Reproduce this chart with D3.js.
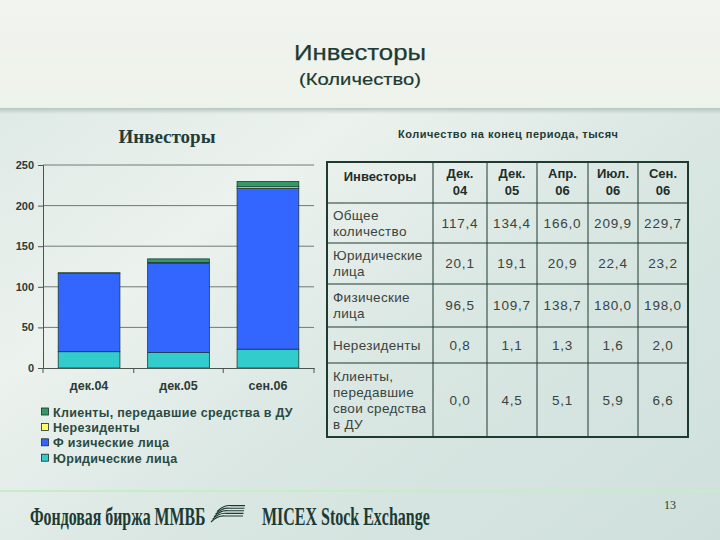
<!DOCTYPE html>
<html><head><meta charset="utf-8">
<script src="https://cdn.jsdelivr.net/npm/d3@7/dist/d3.min.js"></script>
<style>html,body{margin:0;padding:0;}svg{display:block;}</style>
</head><body><svg id="c" width="720" height="540"></svg>
<script>
const categories = ["дек.04", "дек.05", "сен.06"];
const seriesNames = ["Юридические лица", "Физические лица", "Нерезиденты", "Клиенты, передавшие средства в ДУ"];
const legal = [20.1, 19.1, 23.2];
const individuals = [96.5, 109.7, 198.0];
const nonresidents = [0.8, 1.1, 2.0];
const trustClients = [0.0, 4.5, 6.6];
const yTicks = [0, 50, 100, 150, 200, 250];

const tableHeader = ["Инвесторы", "Дек.\n04", "Дек.\n05", "Апр.\n06", "Июл.\n06", "Сен.\n06"];
const rowLabels = ["Общее\nколичество", "Юридические\nлица", "Физические\nлица", "Нерезиденты", "Клиенты,\nпередавшие\nсвои средства\nв ДУ"];
const rowTotal = ["117,4", "134,4", "166,0", "209,9", "229,7"];
const rowLegal = ["20,1", "19,1", "20,9", "22,4", "23,2"];
const rowIndiv = ["96,5", "109,7", "138,7", "180,0", "198,0"];
const rowNonres = ["0,8", "1,1", "1,3", "1,6", "2,0"];
const rowTrust = ["0,0", "4,5", "5,1", "5,9", "6,6"];

const svg = d3.select("#c");
const defs = svg.append("defs");
const bg = defs.append("linearGradient").attr("id","bg").attr("x1","0").attr("y1","0").attr("x2","1").attr("y2","1");
bg.append("stop").attr("offset","0").attr("stop-color","#d9e6e2");
bg.append("stop").attr("offset","0.35").attr("stop-color","#ecf2ee");
bg.append("stop").attr("offset","0.6").attr("stop-color","#dae7e3");
bg.append("stop").attr("offset","1").attr("stop-color","#cfe0dc");
const hg = defs.append("linearGradient").attr("id","hg").attr("x1","0").attr("y1","0").attr("x2","0").attr("y2","1");
hg.append("stop").attr("offset","0").attr("stop-color","#f1f4ef");
hg.append("stop").attr("offset","1").attr("stop-color","#edf2ea");
const sh = defs.append("linearGradient").attr("id","sh").attr("x1","0").attr("y1","0").attr("x2","0").attr("y2","1");
sh.append("stop").attr("offset","0").attr("stop-color","#b5c6c1");
sh.append("stop").attr("offset","1").attr("stop-color","#b5c6c1").attr("stop-opacity","0");

svg.append("rect").attr("width",720).attr("height",540).attr("fill","url(#bg)");
svg.append("rect").attr("width",720).attr("height",108).attr("fill","url(#hg)");
svg.append("rect").attr("y",108).attr("width",720).attr("height",6).attr("fill","url(#sh)");

svg.append("text").attr("x",360).attr("y",60).attr("text-anchor","middle")
  .attr("font-family","Liberation Sans, Arial, sans-serif").attr("font-size",22).attr("fill","#1d3a33")
  .attr("stroke","#1d3a33").attr("stroke-width",0.25)
  .attr("textLength",132).attr("lengthAdjust","spacingAndGlyphs").text("Инвесторы");
svg.append("text").attr("x",360).attr("y",85).attr("text-anchor","middle")
  .attr("font-family","Liberation Sans, Arial, sans-serif").attr("font-size",17).attr("fill","#1d3a33")
  .attr("stroke","#1d3a33").attr("stroke-width",0.2)
  .attr("textLength",122).attr("lengthAdjust","spacingAndGlyphs").text("(Количество)");

// chart
const x = d3.scaleBand().domain(categories).range([43, 314]).paddingInner(0.31).paddingOuter(0.17);
const y = d3.scaleLinear().domain([0, 250]).range([368, 165]);
const colors = d3.scaleOrdinal().domain(seriesNames).range(["#33cccc", "#3366ff", "#ffff66", "#339966"]);

svg.append("text").attr("x",167).attr("y",143).attr("text-anchor","middle")
  .attr("font-family","Liberation Serif, Times New Roman, serif").attr("font-weight","bold")
  .attr("font-size",19).attr("fill","#243c35").text("Инвесторы");

const g = svg.append("g");
g.selectAll("line.grid").data(yTicks.filter(t=>t>0)).enter().append("line")
  .attr("x1",43).attr("x2",314).attr("y1",d=>y(d)).attr("y2",d=>y(d))
  .attr("stroke","#6f7a78").attr("stroke-width",1);

const table = categories.map((c,i)=>({cat:c, "Юридические лица":legal[i], "Физические лица":individuals[i], "Нерезиденты":nonresidents[i], "Клиенты, передавшие средства в ДУ":trustClients[i]}));
const stack = d3.stack().keys(seriesNames)(table);
g.selectAll("g.s").data(stack).enter().append("g").attr("fill",d=>colors(d.key))
  .selectAll("rect").data(d=>d).enter().append("rect")
  .attr("x",d=>x(d.data.cat)).attr("width",x.bandwidth())
  .attr("y",d=>y(d[1])).attr("height",d=>Math.max(0,y(d[0])-y(d[1])))
  .attr("stroke","#1d3a3a").attr("stroke-width",0.8);

const yAxis = g.append("g").attr("transform","translate(43,0)").call(d3.axisLeft(y).tickValues(yTicks).tickSize(5).tickPadding(4));
yAxis.select(".domain").attr("stroke","#4a5553");
yAxis.selectAll(".tick line").attr("stroke","#4a5553");
yAxis.selectAll("text").attr("font-family","Liberation Sans, Arial, sans-serif").attr("font-weight","bold").attr("font-size",11).attr("fill","#2d3a37");

const xAxis = g.append("g").attr("transform","translate(0,368)").call(d3.axisBottom(x).tickSize(0).tickPadding(13));
xAxis.select(".domain").attr("stroke","#4a5553");
xAxis.selectAll("text").attr("font-family","Liberation Sans, Arial, sans-serif").attr("font-weight","bold").attr("font-size",12.5).attr("fill","#2d3a37");
const sep = [43, (x(categories[0])+x.bandwidth()+x(categories[1]))/2, (x(categories[1])+x.bandwidth()+x(categories[2]))/2, 314];
g.selectAll("line.xt").data(sep).enter().append("line")
  .attr("x1",d=>d).attr("x2",d=>d).attr("y1",368).attr("y2",373).attr("stroke","#4a5553");

// legend
const legendOrder = seriesNames.slice().reverse();
const leg = svg.append("g");
legendOrder.forEach((n,i)=>{
  const yy = 412 + i*15.4;
  leg.append("rect").attr("x",41.5).attr("y",yy-4).attr("width",7).attr("height",7).attr("fill",colors(n)).attr("stroke","#1d2d2a").attr("stroke-width",0.8);
  leg.append("text").attr("x",53).attr("y",yy+4.5).attr("font-family","Liberation Sans, Arial, sans-serif").attr("font-weight","bold")
    .attr("font-size",12.5).attr("letter-spacing",0.3).attr("fill","#2a4a42").text(n === "Физические лица" ? "Ф изические лица" : n);
});

// table
svg.append("text").attr("x",508).attr("y",138).attr("text-anchor","middle")
  .attr("font-family","Liberation Sans, Arial, sans-serif").attr("font-weight","bold").attr("font-size",11).attr("fill","#243a34")
  .attr("textLength",220).attr("lengthAdjust","spacing")
  .text("Количество на конец периода, тысяч");
const colX = [327, 433, 487, 537, 588, 638, 688];
const rowY = [162, 203, 243, 284, 327, 363, 437];
const T = svg.append("g");
colX.slice(1,-1).forEach(cx=>T.append("line").attr("x1",cx).attr("x2",cx).attr("y1",rowY[0]).attr("y2",rowY[6]).attr("stroke","#1e3b30").attr("stroke-width",1));
rowY.slice(1,-1).forEach(ry=>T.append("line").attr("x1",colX[0]).attr("x2",colX[6]).attr("y1",ry).attr("y2",ry).attr("stroke","#1e3b30").attr("stroke-width",1));
T.append("rect").attr("x",colX[0]).attr("y",rowY[0]).attr("width",colX[6]-colX[0]).attr("height",rowY[6]-rowY[0]).attr("fill","none").attr("stroke","#1e3b30").attr("stroke-width",2);

function multiline(parent, txt, xx, cy, anchor, lh, attrs){
  const lines = txt.split("\n");
  const t = parent.append("text").attr("text-anchor",anchor);
  Object.entries(attrs).forEach(([k,v])=>t.attr(k,v));
  const y0 = cy - (lines.length-1)*lh/2;
  lines.forEach((l,i)=>t.append("tspan").attr("x",xx).attr("y",y0+i*lh).attr("dy","0.35em").text(l));
  return t;
}
const hdrAttrs = {"font-family":"Liberation Sans, Arial, sans-serif","font-weight":"bold","font-size":13,"fill":"#1e2e2a"};
tableHeader.forEach((h,i)=>{
  if(i===0) multiline(T,h,(colX[0]+colX[1])/2, 176, "middle", 17, hdrAttrs);
  else multiline(T,h,(colX[i]+colX[i+1])/2, 182, "middle", 17, hdrAttrs);
});
const labelAttrs = {"font-family":"Liberation Sans, Arial, sans-serif","font-size":13.5,"letter-spacing":0.3,"fill":"#39433f"};
const numAttrs = {"font-family":"Liberation Sans, Arial, sans-serif","font-size":13.5,"letter-spacing":0.8,"fill":"#39433f"};
const rows = [rowTotal, rowLegal, rowIndiv, rowNonres, rowTrust];
rows.forEach((r,ri)=>{
  const cy = (rowY[ri+1]+rowY[ri+2])/2;
  multiline(T,rowLabels[ri],333,cy,"start",16,labelAttrs);
  r.forEach((v,ci)=>multiline(T,v,(colX[ci+1]+colX[ci+2])/2,cy,"middle",16,numAttrs));
});

// footer
svg.append("line").attr("x1",0).attr("x2",720).attr("y1",491).attr("y2",491).attr("stroke","#c9ecc8").attr("stroke-width",2);
svg.append("text").attr("transform","translate(30,525) scale(0.69,1.08)").attr("font-family","Liberation Serif, serif").attr("font-weight","bold")
  .attr("font-size",23).attr("fill","#1d3a33").text("Фондовая биржа ММВБ");
const logo = svg.append("g").attr("fill","none").attr("stroke","#1d3a33").attr("stroke-width",1.1);
for(let i=0;i<5;i++){
  logo.append("path").attr("d",`M${211+i*1.5},${522-i*2.6} q7,-7 14,-6 l${18-i},0`);
}
svg.append("text").attr("transform","translate(262,525) scale(0.695,1.08)").attr("font-family","Liberation Serif, serif").attr("font-weight","bold")
  .attr("font-size",23).attr("fill","#1d3a33").text("MICEX Stock Exchange");
svg.append("text").attr("x",670).attr("y",509).attr("text-anchor","middle").attr("font-family","Liberation Serif, serif")
  .attr("font-size",12).attr("fill","#1d3a33").text("13");
</script></body></html>
